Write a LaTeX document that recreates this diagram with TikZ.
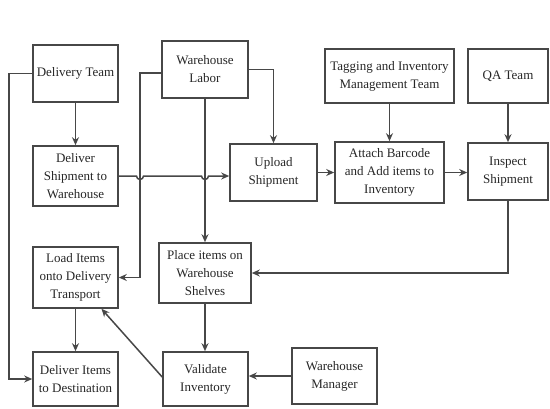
\documentclass[tikz,border=0pt]{standalone}
\usepackage{fontspec}
\setmainfont{Liberation Serif}
\usetikzlibrary{arrows.meta,calc}
\begin{document}
\begin{tikzpicture}[x=1pt,y=-1pt,
  box/.style={draw=black!72,line width=1.6pt,rectangle,align=center,inner sep=2pt,
    font=\fontsize{13}{18}\selectfont,text=black!85},
  arr/.style={draw=black!72,line width=1.5pt,-{Stealth[length=8pt,width=7pt]}},
  ln/.style={draw=black!72,line width=1.5pt}]
\useasboundingbox (0,0) rectangle (550,408);
\node[box,minimum width=85pt,minimum height=57pt] (dt) at (75.5,73.5) {Delivery Team};
\node[box,minimum width=86pt,minimum height=57pt] (wl) at (205,69.5) {Warehouse\\Labor};
\node[box,minimum width=85pt,minimum height=60pt] (ds) at (75.5,176) {Deliver\\Shipment to\\Warehouse};
\node[box,minimum width=87pt,minimum height=57pt] (up) at (273.5,172.5) {Upload\\Shipment};
\node[box,minimum width=129pt,minimum height=54pt] (tg) at (389.5,76) {Tagging and Inventory\\Management Team};
\node[box,minimum width=80pt,minimum height=54pt] (qa) at (508,76) {QA Team};
\node[box,minimum width=109pt,minimum height=61pt] (ab) at (389.5,172.5) {Attach Barcode\\and Add items to\\Inventory};
\node[box,minimum width=80pt,minimum height=57pt] (is) at (508,171.5) {Inspect\\Shipment};
\node[box,minimum width=85pt,minimum height=61pt] (li) at (75.5,277.5) {Load Items\\onto Delivery\\Transport};
\node[box,minimum width=92pt,minimum height=60pt] (pi) at (205,273) {Place items on\\Warehouse\\Shelves};
\node[box,minimum width=85pt,minimum height=54pt] (di) at (75.5,379) {Deliver Items\\to Destination};
\node[box,minimum width=85pt,minimum height=54pt] (vi) at (205.5,379) {Validate\\Inventory};
\node[box,minimum width=85pt,minimum height=56pt] (wm) at (334.5,376) {Warehouse\\Manager};
% connectors
\draw[arr] (dt.south) -- (ds.north);
\draw[arr] (dt.west) -- ++(-23,0) |- (di.west);
\draw[arr] ([yshift=-3.5pt]wl.west) -- (140,73) |- (li.east);
\draw[arr] (wl.east) -| (up.north);
\draw[arr] (wl.south) -- (pi.north);
\draw[arr] (ds.east) -- (136.5,176) arc[start angle=180,end angle=0,radius=3.5]
  -- (201.5,176) arc[start angle=180,end angle=0,radius=3.5] -- (up.west |- ds.east);
\draw[arr] (up.east) -- (ab.west);
\draw[arr] (ab.east) -- (is.west |- ab.east);
\draw[arr] (tg.south) -- (ab.north);
\draw[arr] (qa.south) -- (is.north);
\draw[arr] (is.south) |- (pi.east);
\draw[arr] (li.south) -- (di.north);
\draw[arr] (pi.south) -- (pi.south |- vi.north);
\draw[arr] ([yshift=2pt]vi.west) -- ([xshift=26pt]li.south);
\draw[arr] (wm.west) -- (vi.east |- wm.west);
\end{tikzpicture}
\end{document}
